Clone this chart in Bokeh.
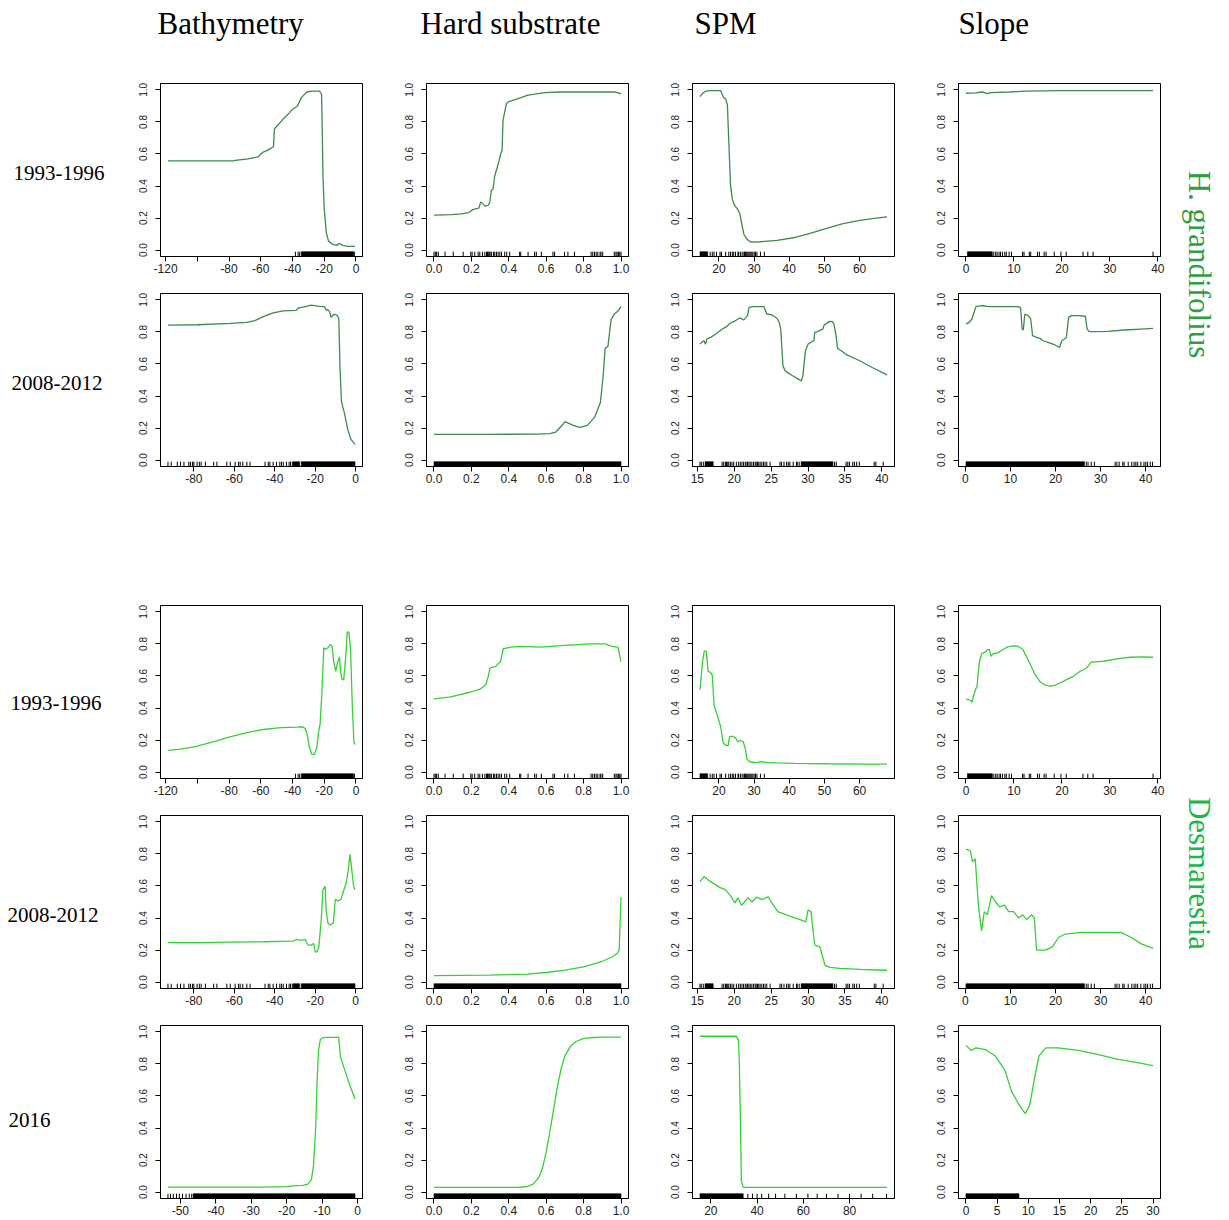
import math
from bokeh.plotting import figure
from bokeh.layouts import row, column
from bokeh.models import Range1d, FixedTicker, PrintfTickFormatter, Spacer
from bokeh.core.properties import value
from bokeh.embed import file_html
from bokeh.resources import INLINE

# ---------------- text ----------------
COL_TITLES = ["Bathymetry", "Hard substrate", "SPM", "Slope"]
ROW_LABELS = ["1993-1996", "2008-2012", "1993-1996", "2008-2012", "2016"]
SPECIES = ["H. grandifolius", "Desmarestia"]

# ---------------- H. grandifolius 1993-1996 ----------------
hg93_bathy_x = [-118.5, -77, -75, -69, -61.5, -60.5, -58.4, -55.3, -52, -51.4, -49, -45.9, -41.7, -40, -37, -34.4, -31, -28, -23, -21.7, -21.3, -20.8, -20, -18.7, -17.3, -14.6, -12, -10.8, -8.3, -5.2, -0.6]
hg93_bathy_y = [0.557, 0.557, 0.561, 0.568, 0.582, 0.595, 0.612, 0.626, 0.645, 0.756, 0.783, 0.818, 0.860, 0.879, 0.898, 0.952, 0.987, 0.992, 0.992, 0.975, 0.78, 0.464, 0.255, 0.109, 0.056, 0.035, 0.029, 0.042, 0.029, 0.023, 0.023]
hg93_hard_x = [0.0, 0.094, 0.147, 0.186, 0.204, 0.227, 0.24, 0.25, 0.263, 0.275, 0.29, 0.298, 0.307, 0.316, 0.325, 0.334, 0.346, 0.357, 0.364, 0.369, 0.378, 0.387, 0.396, 0.449, 0.503, 0.591, 0.68, 0.858, 0.964, 0.982, 1.0]
hg93_hard_y = [0.218, 0.222, 0.226, 0.234, 0.251, 0.259, 0.262, 0.301, 0.287, 0.274, 0.280, 0.297, 0.374, 0.381, 0.464, 0.5, 0.548, 0.603, 0.621, 0.81, 0.862, 0.914, 0.925, 0.946, 0.967, 0.983, 0.987, 0.987, 0.987, 0.983, 0.975]
hg93_spm_x = [14.6, 15.3, 16.2, 17.6, 20.5, 20.9, 21.4, 21.9, 22.4, 22.8, 23.3, 23.8, 24.4, 25.2, 25.9, 26.4, 27.1, 28.0, 28.9, 30, 31.8, 36.5, 41.2, 45.9, 50.6, 55.3, 60, 64.7, 67.8]
hg93_spm_y = [0.958, 0.977, 0.992, 0.996, 0.996, 0.973, 0.95, 0.946, 0.904, 0.674, 0.402, 0.318, 0.280, 0.259, 0.230, 0.172, 0.098, 0.067, 0.052, 0.050, 0.052, 0.061, 0.077, 0.105, 0.136, 0.165, 0.186, 0.199, 0.207]
hg93_slope_x = [0, 2, 3.4, 4.4, 5.1, 9, 12.5, 19.5, 39]
hg93_slope_y = [0.979, 0.981, 0.987, 0.977, 0.983, 0.987, 0.992, 0.996, 0.996]

# ---------------- H. grandifolius 2008-2012 ----------------
hg08_bathy_x = [-92.8, -78.4, -62, -53.8, -49.8, -45.7, -40.8, -35.8, -29.3, -28.5, -24.4, -22, -17.8, -15.4, -14.6, -13.7, -12.9, -12.1, -10.8, -9.7, -8.8, -8.3, -7.7, -7, -5.6, -3.9, -2.3, -0.3]
hg08_bathy_y = [0.843, 0.845, 0.853, 0.860, 0.871, 0.896, 0.919, 0.931, 0.935, 0.948, 0.960, 0.967, 0.960, 0.958, 0.937, 0.939, 0.927, 0.891, 0.910, 0.908, 0.898, 0.881, 0.568, 0.363, 0.296, 0.192, 0.129, 0.098]
hg08_hard_x = [0.0, 0.3, 0.55, 0.62, 0.65, 0.69, 0.70, 0.745, 0.78, 0.82, 0.86, 0.89, 0.904, 0.915, 0.93, 0.947, 0.963, 0.984, 1.0]
hg08_hard_y = [0.161, 0.161, 0.162, 0.165, 0.174, 0.224, 0.24, 0.217, 0.205, 0.217, 0.27, 0.36, 0.52, 0.696, 0.71, 0.876, 0.91, 0.93, 0.96]
hg08_spm_x = [15.36, 15.67, 15.9, 16.1, 16.3, 16.8, 17.5, 18.4, 19.0, 19.5, 20.2, 20.8, 21.0, 21.3, 21.6, 21.8, 22.0, 22.6, 24.0, 24.2, 24.4, 25.1, 25.75, 26.1, 26.3, 26.6, 26.9, 27.8, 28.9, 29.1, 29.3, 29.65, 30.0, 30.5, 30.8, 30.9, 31.35, 31.8, 32.0, 32.2, 32.5, 32.9, 33.3, 33.5, 33.8, 34.0, 34.5, 35.2, 37.0, 38.7, 40.5, 40.7]
hg08_spm_y = [0.724, 0.739, 0.745, 0.724, 0.756, 0.766, 0.787, 0.818, 0.835, 0.856, 0.871, 0.889, 0.881, 0.875, 0.891, 0.902, 0.954, 0.958, 0.958, 0.939, 0.912, 0.906, 0.887, 0.860, 0.818, 0.589, 0.557, 0.530, 0.499, 0.495, 0.526, 0.683, 0.724, 0.739, 0.745, 0.797, 0.804, 0.814, 0.818, 0.845, 0.852, 0.866, 0.864, 0.850, 0.777, 0.697, 0.683, 0.658, 0.620, 0.578, 0.537, 0.530]
hg08_slope_x = [0.15, 0.73, 1.47, 2.35, 3.67, 4.77, 5.87, 11.75, 12.26, 12.6, 12.85, 13.2, 13.95, 14.5, 14.9, 15.8, 16.5, 17.25, 18.35, 19.45, 20.2, 20.9, 21.4, 22.0, 22.4, 22.9, 23.5, 25.0, 26.6, 27.0, 27.5, 31.6, 35.2, 38.9, 41.6]
hg08_slope_y = [0.850, 0.856, 0.881, 0.958, 0.965, 0.960, 0.958, 0.958, 0.950, 0.818, 0.812, 0.912, 0.902, 0.881, 0.777, 0.766, 0.760, 0.745, 0.735, 0.724, 0.714, 0.704, 0.745, 0.756, 0.766, 0.891, 0.902, 0.902, 0.898, 0.818, 0.802, 0.804, 0.812, 0.818, 0.822]

# ---------------- Desmarestia 1993-1996 ----------------
de93_bathy_x = [-118.6, -110.5, -100.9, -90.2, -79.5, -68.9, -58.2, -47.5, -36.9, -33.7, -32.2, -30.9, -29.4, -27.9, -26.2, -24.7, -23.7, -22.6, -21.5, -20.3, -19.2, -17.7, -16, -15.1, -14.1, -12.8, -11.7, -10.4, -9.6, -8.7, -7.7, -6.6, -5.5, -4.5, -3.4, -2.3, -1.3, -0.6]
de93_bathy_y = [0.136, 0.143, 0.161, 0.189, 0.220, 0.247, 0.266, 0.277, 0.281, 0.283, 0.273, 0.241, 0.157, 0.111, 0.111, 0.157, 0.241, 0.304, 0.492, 0.776, 0.765, 0.776, 0.797, 0.786, 0.692, 0.629, 0.681, 0.719, 0.618, 0.577, 0.577, 0.702, 0.874, 0.876, 0.765, 0.409, 0.189, 0.172]
de93_hard_x = [0.0, 0.09, 0.197, 0.25, 0.277, 0.29, 0.30, 0.33, 0.356, 0.37, 0.41, 0.46, 0.57, 0.675, 0.835, 0.915, 0.95, 0.984, 1.0]
de93_hard_y = [0.457, 0.47, 0.50, 0.52, 0.545, 0.595, 0.65, 0.66, 0.69, 0.77, 0.78, 0.785, 0.78, 0.79, 0.80, 0.80, 0.785, 0.78, 0.69]
de93_spm_x = [14.6, 15.3, 15.8, 16.4, 16.9, 17.6, 18.1, 18.6, 19.5, 20.5, 21.2, 21.9, 22.6, 23.0, 23.8, 24.7, 25.4, 26.1, 26.9, 27.5, 28.0, 28.9, 30.8, 31.8, 33.7, 36.5, 41.2, 50.6, 60, 67.8]
de93_spm_y = [0.514, 0.681, 0.755, 0.755, 0.629, 0.623, 0.602, 0.419, 0.356, 0.283, 0.182, 0.168, 0.164, 0.220, 0.224, 0.214, 0.189, 0.199, 0.189, 0.147, 0.078, 0.063, 0.059, 0.065, 0.061, 0.057, 0.055, 0.052, 0.050, 0.050]
de93_slope_x = [0, 0.7, 1.05, 1.26, 1.54, 1.96, 2.3, 2.8, 3.3, 3.6, 4.1, 4.5, 4.9, 5.2, 5.7, 6.6, 7.7, 8.7, 9.8, 10.8, 11.9, 12.2, 13.3, 14.3, 15.4, 16.4, 17.5, 18.5, 19.6, 21.0, 22.4, 23.8, 24.5, 25.2, 25.7, 26.1, 28.7, 31.5, 34.3, 37.1, 39.0]
de93_slope_y = [0.455, 0.451, 0.447, 0.436, 0.472, 0.514, 0.535, 0.692, 0.740, 0.744, 0.751, 0.765, 0.765, 0.723, 0.740, 0.744, 0.765, 0.782, 0.788, 0.786, 0.765, 0.744, 0.681, 0.614, 0.566, 0.545, 0.537, 0.541, 0.556, 0.577, 0.598, 0.629, 0.639, 0.650, 0.671, 0.686, 0.692, 0.707, 0.717, 0.719, 0.717]

# ---------------- Desmarestia 2008-2012 ----------------
de08_bathy_x = [-92.8, -78.4, -62, -45.7, -30.9, -29.3, -27.7, -26.0, -24.9, -23.6, -21.9, -20.8, -20.0, -19.1, -18.2, -17.0, -16.2, -15.1, -14.6, -13.7, -12.4, -11.0, -10.1, -8.8, -7.2, -6.1, -4.7, -3.6, -2.8, -2.0, -1.0, -0.3]
de08_bathy_y = [0.247, 0.247, 0.249, 0.252, 0.256, 0.266, 0.262, 0.262, 0.266, 0.231, 0.231, 0.241, 0.189, 0.189, 0.220, 0.388, 0.577, 0.598, 0.451, 0.367, 0.356, 0.371, 0.516, 0.507, 0.516, 0.564, 0.616, 0.702, 0.797, 0.713, 0.598, 0.577]
de08_hard_x = [0.0, 0.3, 0.5, 0.6, 0.7, 0.8, 0.9, 0.95, 0.98, 0.99, 1.0]
de08_hard_y = [0.04, 0.043, 0.05, 0.06, 0.075, 0.095, 0.13, 0.155, 0.18, 0.2, 0.53]
de08_spm_x = [15.36, 15.9, 16.8, 18.1, 18.8, 19.5, 20.1, 20.5, 21.0, 21.9, 22.4, 23.0, 23.8, 24.6, 25.1, 25.9, 27.6, 28.9, 29.7, 30.0, 30.4, 30.9, 31.6, 32.3, 33.0, 34.3, 37.0, 40.0, 40.7]
de08_spm_y = [0.627, 0.659, 0.627, 0.59, 0.577, 0.54, 0.495, 0.527, 0.48, 0.527, 0.50, 0.53, 0.515, 0.533, 0.495, 0.44, 0.41, 0.39, 0.376, 0.45, 0.44, 0.23, 0.22, 0.105, 0.092, 0.086, 0.08, 0.074, 0.074]
de08_slope_x = [0.15, 1.1, 1.6, 2.2, 2.9, 3.6, 4.2, 4.9, 5.8, 6.7, 7.6, 8.7, 9.6, 10.7, 11.8, 12.7, 13.6, 14.7, 15.3, 15.8, 17.8, 19.3, 20.7, 22.2, 25.6, 31.1, 34.4, 36.7, 38.9, 41.6]
de08_slope_y = [0.83, 0.82, 0.75, 0.77, 0.48, 0.32, 0.44, 0.42, 0.54, 0.50, 0.47, 0.48, 0.44, 0.44, 0.40, 0.42, 0.39, 0.42, 0.40, 0.20, 0.20, 0.22, 0.28, 0.30, 0.31, 0.31, 0.31, 0.28, 0.24, 0.21]

# ---------------- Desmarestia 2016 ----------------
de16_bathy_x = [-53.5, -45.2, -35.8, -26.5, -20, -17.2, -15.4, -14, -13, -12.4, -11.8, -11.4, -11.0, -10.5, -9.8, -7.9, -5.3, -4.8, -3.7, -2.3, -0.7]
de16_bathy_y = [0.031, 0.031, 0.031, 0.031, 0.034, 0.040, 0.042, 0.050, 0.078, 0.172, 0.403, 0.696, 0.885, 0.952, 0.964, 0.966, 0.966, 0.843, 0.769, 0.675, 0.581]
de16_hard_x = [0.0, 0.45, 0.5, 0.53, 0.56, 0.58, 0.6, 0.62, 0.64, 0.66, 0.68, 0.7, 0.73, 0.76, 0.8, 0.85, 0.9, 1.0]
de16_hard_y = [0.03, 0.03, 0.035, 0.05, 0.09, 0.15, 0.25, 0.38, 0.52, 0.66, 0.77, 0.85, 0.91, 0.94, 0.96, 0.965, 0.968, 0.968]
de16_spm_x = [15.3, 31, 31.9, 32.3, 32.8, 33.2, 34, 41.7, 96.2]
de16_spm_y = [0.973, 0.973, 0.95, 0.82, 0.44, 0.07, 0.03, 0.03, 0.03]
de16_slope_x = [0, 0.8, 1.6, 3.1, 4.7, 6.25, 7.3, 8.6, 9.5, 10.2, 10.9, 11.7, 12.8, 14.8, 18, 21.1, 24.2, 27.3, 30]
de16_slope_y = [0.916, 0.885, 0.9, 0.89, 0.85, 0.76, 0.63, 0.54, 0.49, 0.54, 0.69, 0.85, 0.9, 0.9, 0.885, 0.86, 0.83, 0.81, 0.79]

# ---------------- rugs (observations) ----------------
rug93_bathy = [-38.2, -36.5, -35.5, -1.0]
rug93_bathy_dense = [(-34.5, -1.5)]
rug93_hard = [0.0, 0.007, 0.014, 0.023, 0.059, 0.103, 0.156, 0.197, 0.204, 0.218, 0.236, 0.245, 0.259, 0.272, 0.281, 0.286, 0.29, 0.295, 0.30, 0.307, 0.318, 0.325, 0.334, 0.343, 0.352, 0.361, 0.378, 0.389, 0.405, 0.458, 0.464, 0.503, 0.538, 0.547, 0.574, 0.636, 0.645, 0.698, 0.716, 0.751, 0.84, 0.849, 0.858, 0.867, 0.876, 0.888, 0.893, 0.902, 0.964, 0.973, 0.979, 0.986, 0.993, 1.0]
rug93_hard_dense = []
rug93_spm = [17.5, 18.1, 18.6, 19.3, 20.3, 20.7, 21.9, 22.8, 23.3, 23.8, 24.2, 24.7, 25.4, 25.6, 26.1, 26.6, 27.1, 27.3, 27.5, 27.8, 28.2, 28.5, 28.8, 29.1, 29.4, 29.7, 30.2, 30.4, 30.8, 31.8, 32.9]
rug93_spm_dense = [(14.6, 16.8)]
rug93_slope = [5.8, 6.2, 6.5, 6.9, 7.2, 7.6, 8.1, 8.4, 9.0, 9.5, 11.8, 12.1, 13.2, 13.5, 14.9, 15.3, 16.3, 16.7, 18.4, 19.8, 20.9, 24.4, 25.4, 26.5, 39.0]
rug93_slope_dense = [(0.3, 5.5)]

rug08_bathy = [-92.8, -91.2, -88.2, -86.6, -84.9, -82.5, -81.7, -80.7, -80.0, -78.4, -77.3, -76.4, -74.3, -70.2, -68.6, -63.7, -62.0, -59.6, -57.9, -57.1, -55.8, -53.8, -52.2, -44.8, -43.2, -42.4, -40.8, -39.1, -37.5, -36.7, -35.8, -34.2, -32.9, -32.2, -31.3]
rug08_bathy_dense = [(-30.9, -27.7), (-26.9, -0.3)]
rug08_hard = []
rug08_hard_dense = [(0.0, 1.0)]
rug08_spm = [15.36, 15.54, 15.81, 18.36, 18.58, 18.81, 18.94, 19.12, 19.26, 19.48, 19.70, 19.93, 20.29, 20.60, 20.82, 21.05, 21.27, 21.50, 21.72, 21.81, 21.99, 22.17, 22.39, 22.62, 22.84, 22.97, 23.15, 23.33, 23.51, 23.74, 23.96, 24.18, 24.41, 24.86, 26.20, 26.42, 26.74, 27.10, 27.32, 27.54, 27.99, 28.44, 28.53, 28.80, 33.59, 33.82, 35.16, 35.39, 35.61, 36.06, 36.28, 36.59, 36.95, 38.97, 39.19, 40.18]
rug08_spm_dense = [(16.05, 17.15), (29.07, 33.37)]
rug08_slope = [26.8, 27.2, 27.9, 28.6, 33.2, 33.6, 34.1, 34.9, 35.2, 36.1, 36.9, 37.4, 37.8, 38.2, 38.9, 39.6, 40.0, 40.4, 41.0, 41.5]
rug08_slope_dense = [(0.15, 26.4)]

rug16_bathy = [-53.5, -52.8, -52.0, -51.1, -50.3, -49.4, -48.4, -47.5, -46.8]
rug16_bathy_dense = [(-46.4, -0.7)]
rug16_hard = []
rug16_hard_dense = [(0.0, 1.0)]
rug16_spm = [36, 38, 40, 42, 45, 48, 52, 57, 62, 66, 70, 75, 80, 85, 90, 96]
rug16_spm_dense = [(15.3, 34.0)]
rug16_slope = []
rug16_slope_dense = [(0.0, 8.5)]

# ---------------- axis ticks ----------------
Y_TICKS = [0.0, 0.2, 0.4, 0.6, 0.8, 1.0]
TK_BATHY93 = [-120, -100, -80, -60, -40, -20, 0]
TK_BATHY08 = [-80, -60, -40, -20, 0]
TK_BATHY16 = [-50, -40, -30, -20, -10, 0]
TK_HARD = [0.0, 0.2, 0.4, 0.6, 0.8, 1.0]
TK_SPM93 = [20, 30, 40, 50, 60]
TK_SPM08 = [15, 20, 25, 30, 35, 40]
TK_SPM16 = [20, 40, 60, 80]
TK_SLOPE = [0, 10, 20, 30, 40]
TK_SLOPE16 = [0, 5, 10, 15, 20, 25, 30]

DARK = "#3d8a4e"
LIGHT = "#35d135"

LEFT_B, RIGHT_B, TOP_B, FRAME_W, FRAME_H = 40, 24, 6, 202, 173
LAST_RIGHT_B = 8


def panel(xs, ys, color, ticks, fmt, rug, dense, bottom_b=31, right_b=RIGHT_B, hide=None):
    lo, hi = min(xs), max(xs)
    pad = 0.04 * (hi - lo)
    p = figure(width=LEFT_B + FRAME_W + right_b, height=TOP_B + FRAME_H + bottom_b,
               x_range=Range1d(lo - pad, hi + pad), y_range=Range1d(-0.04, 1.04),
               output_backend="svg", toolbar_location=None,
               min_border_left=LEFT_B, min_border_right=right_b,
               min_border_top=TOP_B, min_border_bottom=bottom_b)
    p.grid.visible = False
    p.outline_line_color = "black"
    p.outline_line_width = 1
    p.background_fill_color = "white"
    p.border_fill_color = "white"
    p.xaxis.ticker = FixedTicker(ticks=ticks, minor_ticks=[])
    p.xaxis.formatter = PrintfTickFormatter(format=fmt)
    if hide:
        p.xaxis.major_label_overrides = {h: "" for h in hide}
    p.yaxis.ticker = FixedTicker(ticks=Y_TICKS, minor_ticks=[])
    p.yaxis.formatter = PrintfTickFormatter(format="%.1f")
    p.yaxis.major_label_orientation = "vertical"
    for ax in p.axis:
        ax.axis_line_color = "black"
        ax.major_tick_line_color = "black"
        ax.major_tick_out = 5
        ax.major_tick_in = 0
        ax.minor_tick_line_color = None
        ax.major_label_text_font = "Liberation Sans"
        ax.major_label_text_color = "#222222"
    p.xaxis.major_label_text_font_size = "12px"
    p.xaxis.major_label_standoff = 2
    p.yaxis.major_label_text_font_size = "10px"
    p.yaxis.major_label_standoff = 8
    # rug of observations
    if rug:
        p.segment(x0=rug, y0=[-0.037] * len(rug), x1=rug, y1=[-0.01] * len(rug),
                  line_color="black", line_width=1)
    if dense:
        p.quad(left=[d[0] for d in dense], right=[d[1] for d in dense],
               bottom=[-0.037] * len(dense), top=[-0.01] * len(dense),
               fill_color="black", line_color="black", line_width=0.6)
    p.line(xs, ys, line_color=color, line_width=1.3)
    return p


def panel_row(specs, bottom_b=31):
    figs = []
    for i, s in enumerate(specs):
        rb = LAST_RIGHT_B if i == 3 else RIGHT_B
        xs, ys, color, ticks, fmt, rug, dense = s[:7]
        hide = s[7] if len(s) > 7 else None
        figs.append(panel(xs, ys, color, ticks, fmt, rug, dense, bottom_b=bottom_b, right_b=rb, hide=hide))
    return row(*figs)


r1 = panel_row([
    (hg93_bathy_x, hg93_bathy_y, DARK, TK_BATHY93, "%d", rug93_bathy, rug93_bathy_dense, [-100]),
    (hg93_hard_x, hg93_hard_y, DARK, TK_HARD, "%.1f", rug93_hard, rug93_hard_dense),
    (hg93_spm_x, hg93_spm_y, DARK, TK_SPM93, "%d", rug93_spm, rug93_spm_dense),
    (hg93_slope_x, hg93_slope_y, DARK, TK_SLOPE, "%d", rug93_slope, rug93_slope_dense),
])
r2 = panel_row([
    (hg08_bathy_x, hg08_bathy_y, DARK, TK_BATHY08, "%d", rug08_bathy, rug08_bathy_dense),
    (hg08_hard_x, hg08_hard_y, DARK, TK_HARD, "%.1f", rug08_hard, rug08_hard_dense),
    (hg08_spm_x, hg08_spm_y, DARK, TK_SPM08, "%d", rug08_spm, rug08_spm_dense),
    (hg08_slope_x, hg08_slope_y, DARK, TK_SLOPE, "%d", rug08_slope, rug08_slope_dense),
])
r3 = panel_row([
    (de93_bathy_x, de93_bathy_y, LIGHT, TK_BATHY93, "%d", rug93_bathy, rug93_bathy_dense, [-100]),
    (de93_hard_x, de93_hard_y, LIGHT, TK_HARD, "%.1f", rug93_hard, rug93_hard_dense),
    (de93_spm_x, de93_spm_y, LIGHT, TK_SPM93, "%d", rug93_spm, rug93_spm_dense),
    (de93_slope_x, de93_slope_y, LIGHT, TK_SLOPE, "%d", rug93_slope, rug93_slope_dense),
])
r4 = panel_row([
    (de08_bathy_x, de08_bathy_y, LIGHT, TK_BATHY08, "%d", rug08_bathy, rug08_bathy_dense),
    (de08_hard_x, de08_hard_y, LIGHT, TK_HARD, "%.1f", rug08_hard, rug08_hard_dense),
    (de08_spm_x, de08_spm_y, LIGHT, TK_SPM08, "%d", rug08_spm, rug08_spm_dense),
    (de08_slope_x, de08_slope_y, LIGHT, TK_SLOPE, "%d", rug08_slope, rug08_slope_dense),
])
r5 = panel_row([
    (de16_bathy_x, de16_bathy_y, LIGHT, TK_BATHY16, "%d", rug16_bathy, rug16_bathy_dense),
    (de16_hard_x, de16_hard_y, LIGHT, TK_HARD, "%.1f", rug16_hard, rug16_hard_dense),
    (de16_spm_x, de16_spm_y, LIGHT, TK_SPM16, "%d", rug16_spm, rug16_spm_dense),
    (de16_slope_x, de16_slope_y, LIGHT, TK_SLOPE16, "%d", rug16_slope, rug16_slope_dense),
], bottom_b=21)

GRID_W = 3 * (LEFT_B + FRAME_W + RIGHT_B) + (LEFT_B + FRAME_W + LAST_RIGHT_B)
grid = column(r1, r2, Spacer(width=GRID_W, height=102), r3, r4, r5)

# page-pixel frames for the surrounding text areas
TOP_Y, BOT_Y = 77, 1219
LEFT_X = 120
RIGHT_X = LEFT_X + GRID_W
PAGE_W = 1229


def text_fig(x0, x1, y0, y1):
    f = figure(width=x1 - x0, height=y1 - y0, x_range=Range1d(x0, x1), y_range=Range1d(y1, y0),
               output_backend="svg", toolbar_location=None, x_axis_type=None, y_axis_type=None,
               min_border=0)
    f.grid.visible = False
    f.outline_line_color = None
    f.background_fill_color = "white"
    f.border_fill_color = "white"
    return f


header = text_fig(0, PAGE_W, 0, TOP_Y)
header.text(x=[157, 420, 694, 958], y=[23, 23, 23, 23], text=COL_TITLES,
            text_font=value("Liberation Serif"), text_font_size="31px",
            text_align="left", text_baseline="middle", text_color="black")

left = text_fig(0, LEFT_X, TOP_Y, BOT_Y)
left.text(x=[13, 11, 10, 7, 8], y=[172, 382, 702, 914, 1119], text=ROW_LABELS,
          text_font=value("Liberation Serif"), text_font_size="21px",
          text_align="left", text_baseline="middle", text_color="black")

right = text_fig(RIGHT_X, PAGE_W, TOP_Y, BOT_Y)
right.text(x=[1199, 1199], y=[264, 873], text=SPECIES, angle=[-math.pi / 2, -math.pi / 2],
           text_font=value("Liberation Serif"), text_font_size="31px",
           text_align="center", text_baseline="middle", text_color=["#2f9e3f", "#1ab84a"])

layout = column(header, row(left, grid, right))

open("out.html", "w").write(file_html(layout, INLINE, title="Partial dependence"))
